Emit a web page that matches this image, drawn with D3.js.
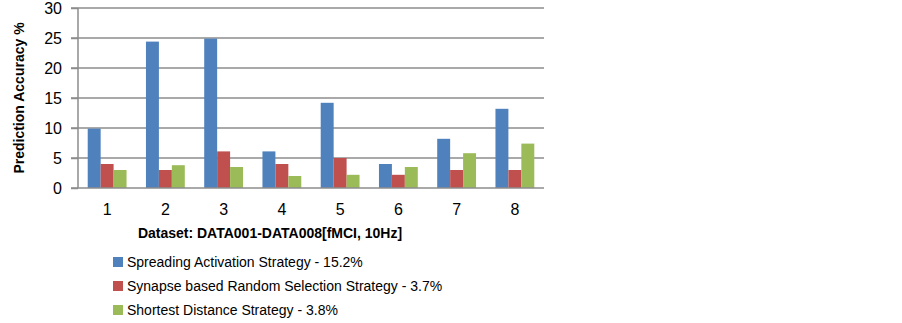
<!DOCTYPE html>
<html>
<head>
    <meta charset="utf-8">
    <script src="https://d3js.org/d3.v7.min.js"></script>
    <style>
        body { margin: 0; background: #fff; }
        .tick text { font: 16px "Liberation Sans", sans-serif; fill: #000; }
        .title { font: bold 14px "Liberation Sans", sans-serif; fill: #000; }
        .legend text { font: 14px "Liberation Sans", sans-serif; fill: #000; }
    </style>
</head>
<body>
<svg width="902" height="323"></svg>
<script>
    var datasets = ["1", "2", "3", "4", "5", "6", "7", "8"];
    var seriesNames = [
        "Spreading Activation Strategy - 15.2%",
        "Synapse based Random Selection Strategy - 3.7%",
        "Shortest Distance Strategy - 3.8%"
    ];
    var spreading = [9.9, 24.4, 24.9, 6.1, 14.2, 4.0, 8.2, 13.2];
    var synapse = [4.0, 3.0, 6.1, 4.0, 5.0, 2.2, 3.0, 3.0];
    var shortest = [3.0, 3.8, 3.5, 2.0, 2.2, 3.5, 5.8, 7.4];
    var yTicks = [0, 5, 10, 15, 20, 25, 30];
    var colors = ["#4F81BD", "#C0504D", "#9BBB59"];

    var series = [spreading, synapse, shortest];

    var svg = d3.select("svg");
    var plotL = 78, plotR = 544, plotT = 8, plotB = 188;

    var x = d3.scaleBand().domain(datasets).range([plotL, plotR]).paddingInner(0).paddingOuter(0);
    var y = d3.scaleLinear().domain([0, 30]).range([plotB, plotT]);
    var barW = x.bandwidth() / 4.5; // gap width 150%

    // gridlines
    svg.append("g").selectAll("line")
        .data(yTicks.slice(1))
        .enter().append("line")
        .attr("x1", plotL - 7).attr("x2", plotR)
        .attr("y1", function (d) { return y(d); })
        .attr("y2", function (d) { return y(d); })
        .attr("stroke", "#8c8c8c").attr("stroke-width", 1.5);

    // bars
    series.forEach(function (vals, s) {
        svg.append("g").selectAll("rect")
            .data(vals)
            .enter().append("rect")
            .attr("x", function (d, i) { return x(datasets[i]) + barW * (0.75 + s); })
            .attr("y", function (d) { return y(d); })
            .attr("width", barW)
            .attr("height", function (d) { return plotB - y(d); })
            .attr("fill", colors[s]);
    });

    // y axis
    var yAxis = svg.append("g")
        .attr("transform", "translate(" + plotL + ",0)")
        .call(d3.axisLeft(y).tickValues(yTicks).tickSize(7).tickPadding(9));
    yAxis.select(".domain").attr("d", "M0," + plotT + "V" + plotB)
        .attr("stroke", "#8c8c8c").attr("stroke-width", 1.5);
    yAxis.selectAll(".tick line").attr("stroke", "#8c8c8c").attr("stroke-width", 1.5);

    // x axis
    var xAxis = svg.append("g")
        .attr("transform", "translate(0," + plotB + ")")
        .call(d3.axisBottom(x).tickSize(0).tickPadding(16));
    xAxis.select(".domain").attr("d", "M" + (plotL - 7) + ",0H" + plotR)
        .attr("stroke", "#8c8c8c").attr("stroke-width", 1.5);

    // axis titles
    svg.append("text").attr("class", "title")
        .attr("x", 270).attr("y", 238)
        .attr("text-anchor", "middle")
        .text("Dataset: DATA001-DATA008[fMCI, 10Hz]");

    svg.append("text").attr("class", "title")
        .attr("transform", "translate(24,98) rotate(-90)")
        .attr("text-anchor", "middle")
        .text("Prediction Accuracy %");

    // legend
    var legend = svg.append("g").attr("class", "legend")
        .selectAll("g")
        .data(seriesNames)
        .enter().append("g")
        .attr("transform", function (d, i) { return "translate(113," + (262 + i * 24) + ")"; });
    legend.append("rect")
        .attr("x", 0).attr("y", -5).attr("width", 10).attr("height", 10)
        .attr("fill", function (d, i) { return colors[i]; });
    legend.append("text")
        .attr("x", 14).attr("dy", "0.35em")
        .text(function (d) { return d; });
</script>
</body>
</html>
